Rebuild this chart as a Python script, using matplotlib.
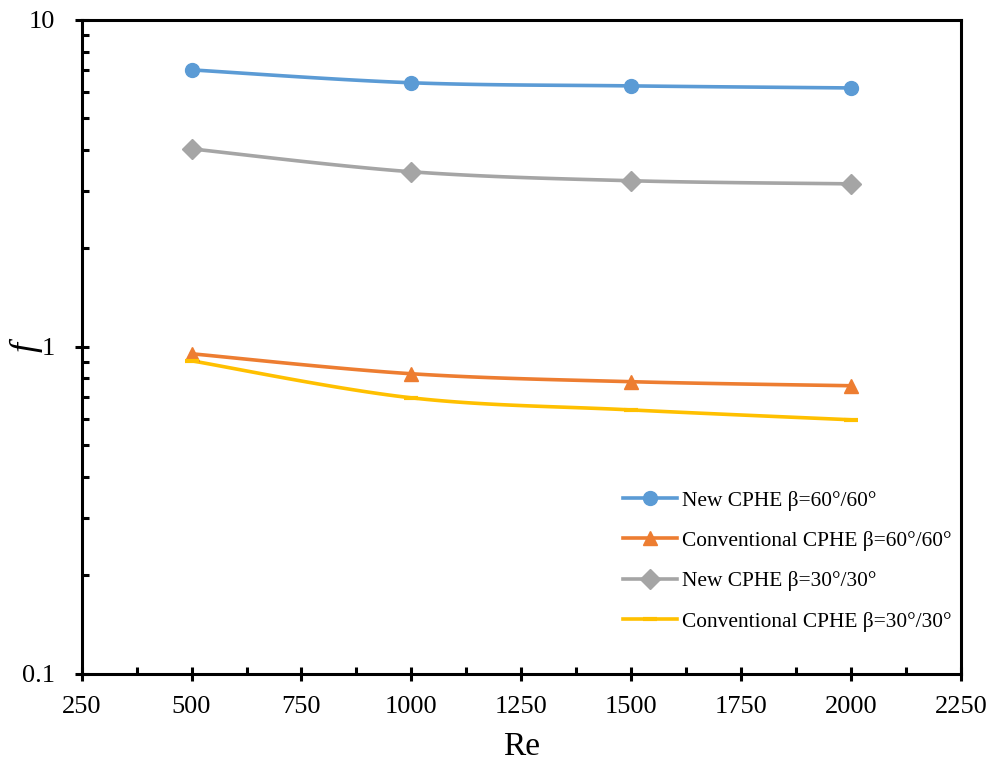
import numpy as np
import matplotlib
matplotlib.use("Agg")
from matplotlib import pyplot as plt
from matplotlib.ticker import FixedLocator, LogLocator, NullFormatter

re_vals = [500, 1000, 1500, 2000]
f_new_60 = [7.03, 6.42, 6.28, 6.19]
f_conv_60 = [0.952, 0.827, 0.782, 0.760]
f_new_30 = [4.03, 3.43, 3.22, 3.15]
f_conv_30 = [0.906, 0.698, 0.641, 0.598]

labels = ["New CPHE β=60°/60°", "Conventional CPHE β=60°/60°",
          "New CPHE β=30°/30°", "Conventional CPHE β=30°/30°"]
colors = ["#5B9BD5", "#ED7D31", "#A5A5A5", "#FFC000"]
markers = ["o", "^", "D", "_"]
msizes = [10, 10, 10, 10]

plt.rcParams['font.family'] = ['Liberation Serif', 'DejaVu Serif']


def smooth(x, y, n=30):
    # Excel-like smoothed line (cardinal spline through the points, in log-y)
    x = np.asarray(x, float)
    ly = np.log10(y)
    px = np.concatenate([[x[0]], x, [x[-1]]])
    py = np.concatenate([[ly[0]], ly, [ly[-1]]])
    xs, ys = [], []
    t = np.linspace(0, 1, n)
    for i in range(1, len(px) - 2):
        p0, p1, p2, p3 = (np.array([px[j], py[j]]) for j in range(i - 1, i + 3))
        c1 = p1 + (p2 - p0) / 6
        c2 = p2 - (p3 - p1) / 6
        pts = ((1 - t) ** 3)[:, None] * p1 + (3 * (1 - t) ** 2 * t)[:, None] * c1 \
            + (3 * (1 - t) * t ** 2)[:, None] * c2 + (t ** 3)[:, None] * p2
        xs.extend(pts[:, 0])
        ys.extend(pts[:, 1])
    return np.array(xs), 10 ** np.array(ys)


fig, ax = plt.subplots(figsize=(9.95, 7.63), dpi=100)
fig.subplots_adjust(left=0.082, right=0.966, top=0.974, bottom=0.117)

series = [f_new_60, f_conv_60, f_new_30, f_conv_30]
for ys, lab, c, m, ms in zip(series, labels, colors, markers, msizes):
    sx, sy = smooth(re_vals, ys)
    ax.plot(sx, sy, color=c, lw=2.6, zorder=3)
    ax.plot(re_vals, ys, linestyle='none', marker=m, color=c, ms=ms,
            mew=3 if m == '_' else 1, zorder=4)
    ax.plot([], [], color=c, lw=2.6, marker=m, ms=ms,
            mew=3 if m == '_' else 1, label=lab)

ax.set_yscale('log')
ax.set_ylim(0.1, 10)
ax.set_xlim(250, 2250)
ax.set_xticks(np.arange(250, 2251, 250))
ax.xaxis.set_minor_locator(FixedLocator(np.arange(375, 2250, 250)))
ax.yaxis.set_major_locator(FixedLocator([0.1, 1, 10]))
ax.set_yticklabels(['0.1', '1', '10'])
ax.yaxis.set_minor_locator(LogLocator(base=10, subs=np.arange(2, 10)))
ax.yaxis.set_minor_formatter(NullFormatter())

ax.tick_params(which='major', direction='inout', length=10, width=2.2,
               labelsize=19)
ax.tick_params(axis='x', which='major', pad=11)
ax.tick_params(axis='y', which='major', pad=14)
ax.tick_params(axis='x', which='minor', direction='in', length=5, width=2.2)
ax.tick_params(axis='y', which='minor', direction='in', length=5, width=2.2)
for s in ax.spines.values():
    s.set_linewidth(2.2)

ax.set_xlabel('Re', fontsize=24, labelpad=10)
ax.set_ylabel('f', fontsize=26, style='italic', rotation=90)
ax.yaxis.set_label_coords(-0.044, 0.5)

ax.legend(loc='lower right', bbox_to_anchor=(1.011, 0.035), frameon=False,
          fontsize=15.4, handlelength=2.5, handletextpad=0.25, labelspacing=0.95)

plt.savefig('out.png', dpi=100)
plt.close()
